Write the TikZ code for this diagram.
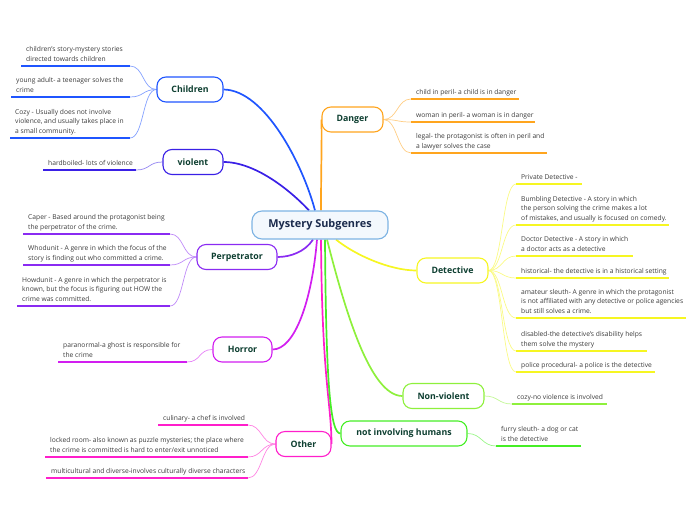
\documentclass[tikz,border=0pt]{standalone}
\usepackage{fontspec}
\setmainfont{Open Sans}
\usetikzlibrary{positioning}
\usetikzlibrary{backgrounds}

\definecolor{cRoot}{HTML}{7DB3E3}
\definecolor{cRootFill}{HTML}{F3F8FD}
\definecolor{cRootText}{HTML}{1B2B4D}
\definecolor{cLabel}{HTML}{0E3F31}
\definecolor{cLeaf}{HTML}{3C3C3C}
\definecolor{cChild}{HTML}{1F55FF}
\definecolor{cViol}{HTML}{3A20E6}
\definecolor{cPerp}{HTML}{8A2BF2}
\definecolor{cHorr}{HTML}{D21EF0}
\definecolor{cOther}{HTML}{FF1ECB}
\definecolor{cDang}{HTML}{FFA51E}
\definecolor{cDet}{HTML}{F6F622}
\definecolor{cNonv}{HTML}{8EF03C}
\definecolor{cNih}{HTML}{46EE26}

\tikzset{
	root/.style={draw=cRoot, line width=1.1pt, fill=cRootFill, rounded corners=10pt, minimum width=136pt, minimum height=28pt, text=cRootText, font=\fontsize{10.9}{13}\selectfont\bfseries},
	topic/.style={draw=#1, line width=1.1pt, fill=white, rounded corners=9pt, minimum height=25pt, inner xsep=0pt, text=cLabel, font=\fontsize{8.8}{10}\selectfont\bfseries},
	leaf/.style={anchor=south west, align=left, inner xsep=5pt, inner ysep=3.2pt, text depth=1.5pt, text=cLeaf, font=\fontsize{6.7}{9.4}\selectfont},
	uline/.style={draw=#1, line width=1.5pt},
	limb/.style={draw=#1, line width=1.7pt},
	twig/.style={draw=#1!55, line width=0.7pt},
}

\begin{document}
\begin{tikzpicture}[x=1pt, y=-1pt]
\useasboundingbox (0,0) rectangle (696,520);

% centre and main topics
\node[root](root) at (320,225){Mystery Subgenres};

\node[topic=cChild, minimum width=66pt](children) at (190,89.5){Children};
\node[topic=cViol, minimum width=60pt](violent) at (193,162){violent};
\node[topic=cPerp, minimum width=80pt](perp) at (237,257){Perpetrator};
\node[topic=cHorr, minimum width=59pt](horror) at (242.5,349.5){Horror};
\node[topic=cOther, minimum width=55pt](other) at (303.5,444){Other};
\node[topic=cDang, minimum width=61pt](danger) at (352.5,119.5){Danger};
\node[topic=cDet, minimum width=71pt](detective) at (452.5,270.5){Detective};
\node[topic=cNonv, minimum width=81pt](nonviolent) at (443.5,396){Non-violent};
\node[topic=cNih, minimum width=126pt](nohumans) at (404,433.5){not involving humans};

% children
\node[leaf](c1) at (21,66){children's story-mystery stories\\ directed towards children};
\node[leaf](c2) at (11,97){young adult- a teenager solves the\\crime};
\node[leaf](c3) at (10,138){Cozy - Usually does not involve\\violence, and usually takes place in\\a small community.};
\draw[uline=cChild] (c1.south west) -- ++(109,0) coordinate (c1e);
\draw[uline=cChild] (c2.south west) -- ++(119,0) coordinate (c2e);
\draw[uline=cChild] (c3.south west) -- ++(120,0) coordinate (c3e);

% violent
\node[leaf](v1) at (43,170){hardboiled- lots of violence};
\draw[uline=cViol] (v1.south west) -- ++(93,0) coordinate (v1e);

% perpetrator
\node[leaf](p1) at (23,234){Caper - Based around the protagonist being\\the perpetrator of the crime.};
\node[leaf](p2) at (23,265){Whodunit - A genre in which the focus of the\\story is finding out who committed a crime.};
\node[leaf](p3) at (17,306){Howdunit - A genre in which the perpetrator is\\known, but the focus is figuring out HOW the\\crime was committed.};
\draw[uline=cPerp] (p1.south west) -- ++(147,0) coordinate (p1e);
\draw[uline=cPerp] (p2.south west) -- ++(147,0) coordinate (p2e);
\draw[uline=cPerp] (p3.south west) -- ++(153,0) coordinate (p3e);

% horror
\node[leaf](h1) at (58,362){paranormal-a ghost is responsible for\\the crime};
\draw[uline=cHorr] (h1.south west) -- ++(129,0) coordinate (h1e);

% other
\node[leaf](o1) at (158,425){culinary- a chef is involved};
\node[leaf](o2) at (45,457){locked room- also known as puzzle mysteries; the place where\\the crime is committed is hard to enter/exit unnoticed};
\node[leaf](o3) at (46,478){multicultural and diverse-involves culturally diverse characters};
\draw[uline=cOther] (o1.south west) -- ++(90,0) coordinate (o1e);
\draw[uline=cOther] (o2.south west) -- ++(203,0) coordinate (o2e);
\draw[uline=cOther] (o3.south west) -- ++(202,0) coordinate (o3e);

% danger
\node[leaf](d1) at (411,99){child in peril- a child is in danger};
\node[leaf](d2) at (411,122){woman in peril- a woman is in danger};
\node[leaf](d3) at (411,153){legal- the protagonist is often in peril and\\a lawyer solves the case};
\draw[uline=cDang] (d1.south west) -- ++(108,0);
\draw[uline=cDang] (d2.south west) -- ++(124,0);
\draw[uline=cDang] (d3.south west) -- ++(136,0);

% detective
\node[leaf](t1) at (516,184){Private Detective -};
\node[leaf](t2) at (516,225){Bumbling Detective - A story in which\\the person solving the crime makes a lot\\of mistakes, and usually is focused on comedy.};
\node[leaf](t3) at (516,256){Doctor Detective - A story in which\\a doctor acts as a detective};
\node[leaf](t4) at (516,278){historical- the detective is in a historical setting};
\node[leaf](t5) at (516,318){amateur sleuth- A genre in which the protagonist\\is not affiliated with any detective or police agencies\\but still solves a crime.};
\node[leaf](t6) at (516,351){disabled-the detective's disability helps\\them solve the mystery};
\node[leaf](t7) at (516,372){police procedural- a police is the detective};
\draw[uline=cDet] (t1.south west) -- ++(66,0);
\draw[uline=cDet] (t2.south west) -- ++(153,0);
\draw[uline=cDet] (t3.south west) -- ++(117,0);
\draw[uline=cDet] (t4.south west) -- ++(153,0);
\draw[uline=cDet] (t5.south west) -- ++(170,0);
\draw[uline=cDet] (t6.south west) -- ++(131,0);
\draw[uline=cDet] (t7.south west) -- ++(139,0);

% non-violent, not involving humans
\node[leaf](n1) at (512,404){cozy-no violence is involved};
\draw[uline=cNonv] (n1.south west) -- ++(95,0);
\node[leaf](f1) at (496,446){furry sleuth- a dog or cat\\is the detective};
\draw[uline=cNih] (f1.south west) -- ++(85,0);

\begin{scope}[on background layer]
% limbs from the centre
\draw[limb=cChild] ([xshift=-5pt]root.north) .. controls (303,165) and (265,90) .. (children.east);
\draw[limb=cViol] ([xshift=-11pt]root.north) .. controls (290,190) and (255,162) .. (violent.east);
\draw[limb=cDang] ([xshift=1pt]root.north) .. controls (321,170) and (322,140) .. (danger.west);
\draw[limb=cPerp] ([xshift=-7pt]root.south) .. controls (305,252) and (290,257) .. (perp.east);
\draw[limb=cHorr] ([xshift=-3pt]root.south) .. controls (312,300) and (295,349.5) .. (horror.east);
\draw[limb=cOther] ([xshift=1pt]root.south) .. controls (322,380) and (331,400) .. (other.east);
\draw[limb=cNih] ([xshift=5pt]root.south) .. controls (326,380) and (330,433.5) .. (nohumans.west);
\draw[limb=cNonv] ([xshift=7pt]root.south) .. controls (345,310) and (370,396) .. (nonviolent.west);
\draw[limb=cDet] ([xshift=16pt]root.south) .. controls (355,255) and (390,270.5) .. (detective.west);

% twigs to the leaves
\foreach \l in {c1e,c2e,c3e}
	\draw[twig=cChild] (children.west) .. controls +(-14,0) and +(14,0) .. (\l);
\draw[twig=cViol] (violent.west) .. controls +(-14,0) and +(14,0) .. (v1e);
\foreach \l in {p1e,p2e,p3e}
	\draw[twig=cPerp] (perp.west) .. controls +(-14,0) and +(14,0) .. (\l);
\draw[twig=cHorr] (horror.west) .. controls +(-14,0) and +(14,0) .. (h1e);
\foreach \l in {o1e,o2e,o3e}
	\draw[twig=cOther] (other.west) .. controls +(-14,0) and +(14,0) .. (\l);
\foreach \l in {d1,d2,d3}
	\draw[twig=cDang] (danger.east) .. controls +(14,0) and +(-14,0) .. (\l.south west);
\foreach \l in {t1,t2,t3,t4,t5,t6,t7}
	\draw[twig=cDet] (detective.east) .. controls +(14,0) and +(-14,0) .. (\l.south west);
\draw[twig=cNonv] (nonviolent.east) .. controls +(14,0) and +(-14,0) .. (n1.south west);
\draw[twig=cNih] (nohumans.east) .. controls +(14,0) and +(-14,0) .. (f1.south west);
\end{scope}
\end{tikzpicture}
\end{document}
